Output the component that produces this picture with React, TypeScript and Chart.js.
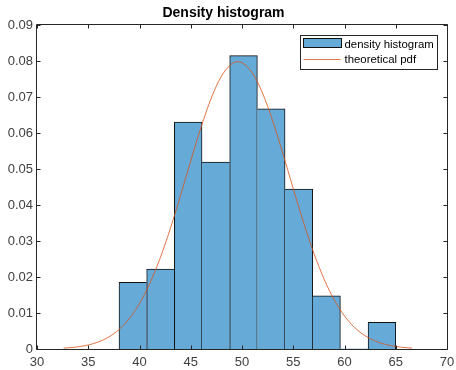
import React, { useEffect, useRef } from "react";
import { Chart, registerables } from "chart.js";

Chart.register(...registerables);

// ---- data ----
const titleText = "Density histogram";
const legendLabels = ["density histogram", "theoretical pdf"];
const binEdges = [38.0, 40.7, 43.4, 46.1, 48.8, 51.5, 54.2, 56.9, 59.6, 62.3, 65.0];
const densityValues = [0.0185, 0.0222, 0.063, 0.0519, 0.0815, 0.0667, 0.0444, 0.0148, 0, 0.0074];
const pdfX = [32.6, 33, 34, 35, 36, 37, 38, 39, 40, 41, 42, 43, 44, 45, 46, 47, 48, 49, 49.6, 50, 51, 52, 53, 54, 55, 56, 57, 58, 59, 60, 61, 62, 63, 64, 65, 66, 66.6];
const pdfY = [0.00025, 0.00032, 0.00061, 0.00112, 0.00197, 0.00333, 0.00541, 0.00844, 0.01263, 0.01818, 0.02514, 0.03339, 0.04262, 0.05226, 0.06158, 0.0697, 0.07581, 0.07922, 0.07979, 0.07954, 0.07673, 0.07111, 0.06332, 0.05418, 0.04453, 0.03517, 0.02669, 0.01946, 0.01363, 0.00917, 0.00593, 0.00369, 0.0022, 0.00126, 0.0007, 0.00037, 0.00025];
const xTicks = [30, 35, 40, 45, 50, 55, 60, 65, 70];
const xTickLabels = ["30", "35", "40", "45", "50", "55", "60", "65", "70"];
const yTicks = [0, 0.01, 0.02, 0.03, 0.04, 0.05, 0.06, 0.07, 0.08, 0.09];
const yTickLabels = ["0", "0.01", "0.02", "0.03", "0.04", "0.05", "0.06", "0.07", "0.08", "0.09"];

const BAR_FILL = "rgb(102,170,215)";
const BAR_EDGE = "#111111";
const LINE_COLOR = "#D95319";
const AXIS_COLOR = "#262626";
const LABEL_COLOR = "#404040";
const FONT = "'Liberation Sans', Arial, Helvetica, sans-serif";

const framePlugin = {
  id: "matlabFrame",
  afterDatasetsDraw(chart: any) {
    const { ctx, chartArea } = chart;
    const xs = chart.scales.x;
    const ys = chart.scales.y;
    const L = Math.round(chartArea.left) - 0.5;
    const R = Math.round(chartArea.right) + 0.5;
    const T = Math.round(chartArea.top) - 0.5;
    const B = Math.round(chartArea.bottom) + 0.5;
    ctx.save();
    ctx.strokeStyle = AXIS_COLOR;
    ctx.lineWidth = 1;
    ctx.beginPath();
    ctx.rect(L, T, R - L, B - T);
    const tl = 4;
    xTicks.forEach((v) => {
      const p = Math.round(xs.getPixelForValue(v)) + 0.5;
      ctx.moveTo(p, B);
      ctx.lineTo(p, B - tl);
      ctx.moveTo(p, T);
      ctx.lineTo(p, T + tl);
    });
    yTicks.forEach((v) => {
      const p = Math.round(ys.getPixelForValue(v)) + 0.5;
      ctx.moveTo(L, p);
      ctx.lineTo(L + tl, p);
      ctx.moveTo(R, p);
      ctx.lineTo(R - tl, p);
    });
    ctx.stroke();
    ctx.restore();
  },
  afterDraw(chart: any) {
    const { ctx, chartArea } = chart;
    const w = 137;
    const h = 34;
    const left = Math.round(chartArea.right) - 10 - w + 0.5;
    const top = Math.round(chartArea.top) + 10 + 0.5;
    ctx.save();
    ctx.fillStyle = "#ffffff";
    ctx.fillRect(left, top, w, h);
    ctx.strokeStyle = AXIS_COLOR;
    ctx.lineWidth = 1;
    ctx.strokeRect(left, top, w, h);
    // patch
    ctx.fillStyle = BAR_FILL;
    ctx.fillRect(left + 3, top + 3, 38, 9);
    ctx.strokeStyle = BAR_EDGE;
    ctx.strokeRect(left + 3, top + 3, 38, 9);
    // line sample
    ctx.strokeStyle = LINE_COLOR;
    ctx.lineWidth = 0.8;
    ctx.beginPath();
    ctx.moveTo(left + 3, top + 24);
    ctx.lineTo(left + 40, top + 24);
    ctx.stroke();
    ctx.fillStyle = "#000000";
    ctx.font = `11.4px ${FONT}`;
    ctx.textBaseline = "middle";
    ctx.textAlign = "left";
    ctx.fillText(legendLabels[0], left + 44, top + 9);
    ctx.fillText(legendLabels[1], left + 44, top + 24);
    ctx.restore();
  },
};

export default function App() {
  const canvasRef = useRef<HTMLCanvasElement | null>(null);

  useEffect(() => {
    if (!canvasRef.current) return;
    const barData = densityValues.map((d, i) => ({
      x: (binEdges[i] + binEdges[i + 1]) / 2,
      y: d,
    }));
    const lineData = pdfX.map((x, i) => ({ x, y: pdfY[i] }));

    const borderFor = (ctx: any) => {
      const i = ctx.dataIndex;
      const cur = densityValues[i];
      const prev = i > 0 ? densityValues[i - 1] : undefined;
      const next = i < densityValues.length - 1 ? densityValues[i + 1] : undefined;
      if (!cur) return 0;
      return {
        top: 1,
        bottom: 0,
        left: prev === undefined || prev <= cur ? 1 : 0,
        right: next === undefined || next < cur ? 1 : 0,
      };
    };

    const chart = new Chart(canvasRef.current, {
      type: "bar",
      data: {
        datasets: [
          {
            type: "line",
            label: legendLabels[1],
            data: lineData,
            borderColor: LINE_COLOR,
            borderWidth: 0.8,
            pointRadius: 0,
            cubicInterpolationMode: "monotone",
            fill: false,
          } as any,
          {
            type: "bar",
            label: legendLabels[0],
            data: barData,
            backgroundColor: BAR_FILL,
            borderColor: BAR_EDGE,
            borderWidth: borderFor,
            borderSkipped: false,
            categoryPercentage: 1,
            barPercentage: 1,
          } as any,
        ],
      },
      options: {
        animation: false,
        responsive: false,
        layout: { padding: { top: 0, left: 0, right: 9, bottom: 0 } },
        plugins: {
          legend: { display: false },
          tooltip: { enabled: false },
          title: {
            display: true,
            text: titleText,
            color: "#000000",
            font: { family: FONT, size: 14, weight: "bold" },
            padding: { top: 4.5, bottom: 3.7 },
          },
        },
        scales: {
          x: {
            type: "linear",
            min: 30,
            max: 70,
            offset: false,
            grid: { display: false, drawTicks: false },
            border: { display: false },
            ticks: {
              color: LABEL_COLOR,
              font: { family: FONT, size: 13 },
              padding: 6,
              maxRotation: 0,
              autoSkip: false,
              callback: (v: any) => {
                const i = xTicks.indexOf(Number(v));
                return i >= 0 ? xTickLabels[i] : "";
              },
            },
            afterBuildTicks: (s: any) => {
              s.ticks = xTicks.map((v) => ({ value: v }));
            },
            afterFit: (s: any) => {
              s.height = 21;
              s.paddingLeft = 0;
              s.paddingRight = 0;
            },
          } as any,
          y: {
            type: "linear",
            min: 0,
            max: 0.09,
            grid: { display: false, drawTicks: false },
            border: { display: false },
            ticks: {
              color: LABEL_COLOR,
              font: { family: FONT, size: 13 },
              padding: 4,
              autoSkip: false,
              callback: (v: any) => {
                const i = yTicks.findIndex((t) => Math.abs(t - Number(v)) < 1e-9);
                return i >= 0 ? yTickLabels[i] : "";
              },
            },
            afterBuildTicks: (s: any) => {
              s.ticks = yTicks.map((v) => ({ value: v }));
            },
            afterFit: (s: any) => {
              s.width = 37;
              s.paddingTop = 0;
              s.paddingBottom = 0;
            },
          } as any,
        },
      },
      plugins: [framePlugin],
    });
    return () => chart.destroy();
  }, []);

  return (
    <div style={{ position: "absolute", left: 0, top: 0, width: 456, height: 370, background: "#ffffff" }}>
      <canvas ref={canvasRef} width={456} height={370} style={{ display: "block" }} />
    </div>
  );
}
